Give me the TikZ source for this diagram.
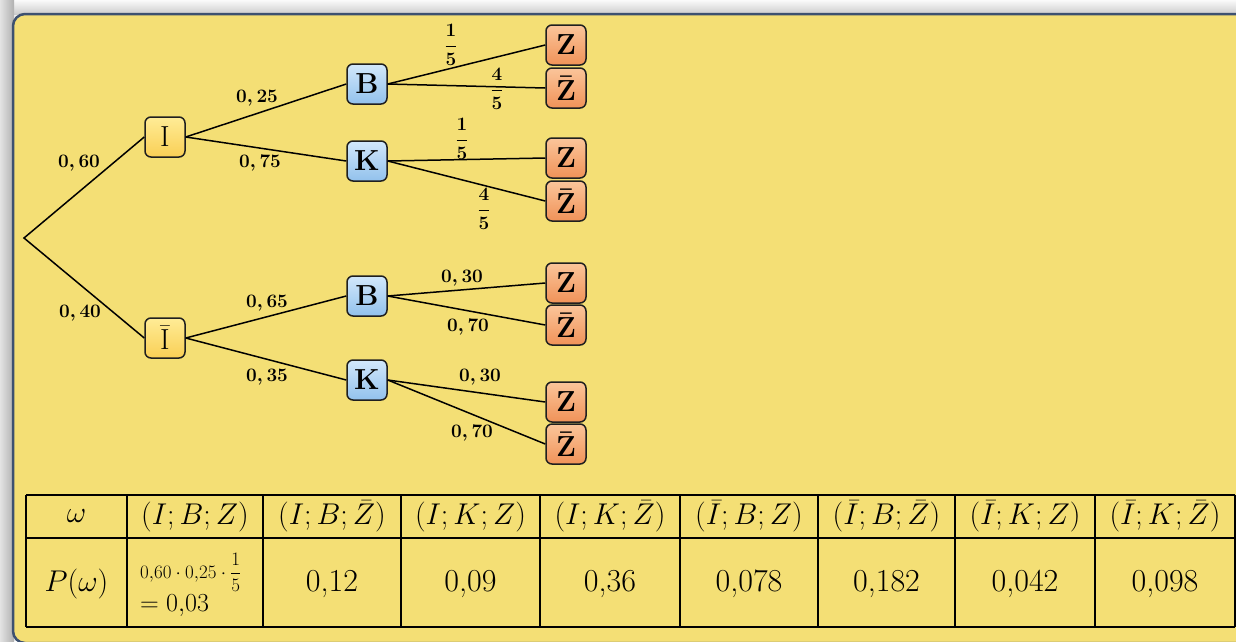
\RequirePackage{fix-cm}
\documentclass[tikz,border=0pt]{standalone}
\usepackage{amsmath}
\usepackage{fontspec}
\usetikzlibrary{calc}

\definecolor{panelyellow}{HTML}{F4DF75}
\definecolor{panelnavy}{HTML}{3D5170}
\definecolor{ytop}{HTML}{FFEC96}
\definecolor{ybot}{HTML}{F9CF55}
\definecolor{btop}{HTML}{D2E8FB}
\definecolor{bbot}{HTML}{92C1EC}
\definecolor{otop}{HTML}{FBC59A}
\definecolor{obot}{HTML}{F09258}

\tikzset{
  stagebox/.style={draw=black!88, line width=1.5pt, rounded corners=6pt,
    minimum width=40pt, minimum height=40pt, inner sep=0pt,
    font=\fontsize{29}{30}\selectfont},
  ibox/.style={stagebox, top color=ytop, bottom color=ybot},
  bbox/.style={stagebox, top color=btop, bottom color=bbot, font=\fontsize{29}{30}\selectfont\bfseries},
  zbox/.style={stagebox, top color=otop, bottom color=obot, font=\fontsize{29}{30}\selectfont\bfseries\boldmath},
  branch/.style={line width=1.5pt, black},
  prob/.style={inner sep=0pt, font=\fontsize{19}{21}\selectfont\boldmath},
  gridline/.style={line width=1.5pt, black},
  cell/.style={inner sep=0pt, font=\fontsize{30}{32}\selectfont},
  value/.style={inner sep=0pt, font=\fontsize{32}{34}\selectfont},
}

\begin{document}
\begin{tikzpicture}[x=1pt,y=-1pt]
\useasboundingbox (0,0) rectangle (1236,641);

% backdrop and the soft shadow round the panel
\fill[gray!12] (0,0) rectangle (1236,641);
\shade[top color=gray!4, bottom color=gray!40] (0,0) rectangle (1236,14);
\shade[left color=gray!22, right color=gray!62] (0,0) rectangle (14,641);

% panel
\draw[line width=2.5pt, draw=panelnavy, fill=panelyellow, rounded corners=12pt]
  (13,14) rectangle (1300,643);

% tree nodes
\coordinate (root) at (24,238);
\node[ibox] (I)  at (165,137) {I};
\node[ibox] (Ib) at (165,338) {$\bar{\mathrm{I}}$};

\node[bbox] (B1) at (367,84)  {B};
\node[bbox] (K1) at (367,161) {K};
\node[bbox] (B2) at (367,296) {B};
\node[bbox] (K2) at (367,380) {K};

\node[zbox] (Z1)  at (566,45)  {Z};
\node[zbox] (Zb1) at (566,88)  {$\bar{\mathbf{Z}}$};
\node[zbox] (Z2)  at (566,158) {Z};
\node[zbox] (Zb2) at (566,201) {$\bar{\mathbf{Z}}$};
\node[zbox] (Z3)  at (566,283) {Z};
\node[zbox] (Zb3) at (566,325) {$\bar{\mathbf{Z}}$};
\node[zbox] (Z4)  at (566,402) {Z};
\node[zbox] (Zb4) at (566,444) {$\bar{\mathbf{Z}}$};

% branches
\draw[branch] (I.west) -- (root) -- (Ib.west);
\draw[branch] (I.east) -- (B1.west);
\draw[branch] (I.east) -- (K1.west);
\draw[branch] (Ib.east) -- (B2.west);
\draw[branch] (Ib.east) -- (K2.west);
\draw[branch] (B1.east) -- (Z1.west);
\draw[branch] (B1.east) -- (Zb1.west);
\draw[branch] (K1.east) -- (Z2.west);
\draw[branch] (K1.east) -- (Zb2.west);
\draw[branch] (B2.east) -- (Z3.west);
\draw[branch] (B2.east) -- (Zb3.west);
\draw[branch] (K2.east) -- (Z4.west);
\draw[branch] (K2.east) -- (Zb4.west);

% branch probabilities
\node[prob] (pI)   at (79,163)  {$0,60$};
\node[prob] (pIb)  at (80,313)  {$0,40$};
\node[prob] (pB1)  at (257,98)  {$0,25$};
\node[prob] (pK1)  at (260,163) {$0,75$};
\node[prob] (pB2)  at (267,303) {$0,65$};
\node[prob] (pK2)  at (267,377) {$0,35$};
\node[prob] (pZ1)  at (451,45)  {$\dfrac{1}{5}$};
\node[prob] (pZb1) at (497,89)  {$\dfrac{4}{5}$};
\node[prob] (pZ2)  at (462,139) {$\dfrac{1}{5}$};
\node[prob] (pZb2) at (484,209) {$\dfrac{4}{5}$};
\node[prob] (pZ3)  at (462,278) {$0,30$};
\node[prob] (pZb3) at (468,327) {$0,70$};
\node[prob] (pZ4)  at (480,377) {$0,30$};
\node[prob] (pZb4) at (472,433) {$0,70$};

% outcome table
\foreach \x in {26,127,263,401,540,680,818,955,1095,1235}
  \draw[gridline] (\x,495) -- (\x,627);
\foreach \y in {495,538,627}
  \draw[gridline] (26,\y) -- (1235,\y);

\node[cell] (h0) at (76.5,516.5)  {$\omega$};
\node[cell] (h1) at (195,516.5)   {$(I;B;Z)$};
\node[cell] (h2) at (332,516.5)   {$(I;B;\bar{Z})$};
\node[cell] (h3) at (470.5,516.5) {$(I;K;Z)$};
\node[cell] (h4) at (610,516.5)   {$(I;K;\bar{Z})$};
\node[cell] (h5) at (749,516.5)   {$(\bar{I};B;Z)$};
\node[cell] (h6) at (886.5,516.5) {$(\bar{I};B;\bar{Z})$};
\node[cell] (h7) at (1025,516.5)  {$(\bar{I};K;Z)$};
\node[cell] (h8) at (1165,516.5)  {$(\bar{I};K;\bar{Z})$};

\node[cell] (v0) at (76.5,584)  {$P(\omega)$};
\node[inner sep=0pt, anchor=west, font=\fontsize{19}{21}\selectfont]
  (v1a) at (140,572) {$0{,}60\cdot 0{,}25\cdot\dfrac{1}{5}$};
\node[inner sep=0pt, anchor=west, font=\fontsize{26}{28}\selectfont]
  (v1b) at (140,606) {$=0{,}03$};
\node[value] (v2) at (332,584)   {0,12};
\node[value] (v3) at (470.5,584) {0,09};
\node[value] (v4) at (610,584)   {0,36};
\node[value] (v5) at (749,584)   {0,078};
\node[value] (v6) at (886.5,584) {0,182};
\node[value] (v7) at (1025,584)  {0,042};
\node[value] (v8) at (1165,584)  {0,098};
\end{tikzpicture}
\end{document}
